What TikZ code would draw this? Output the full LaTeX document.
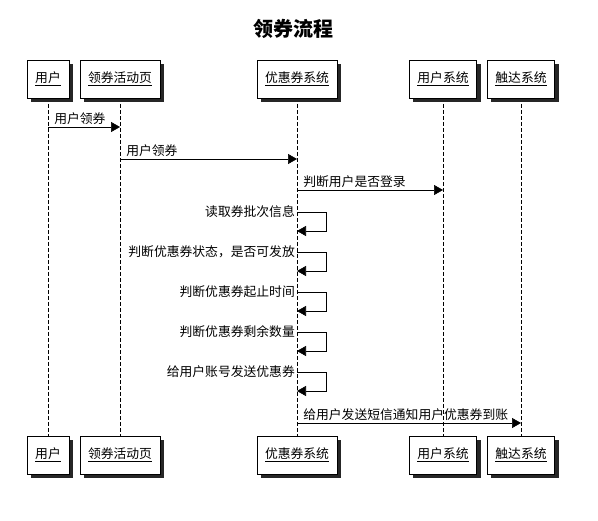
\documentclass[tikz,border=0pt]{standalone}
\usepackage{fontspec}
\setmainfont{Noto Sans CJK SC}
\usetikzlibrary{arrows.meta, shadows}

\begin{document}
\begin{tikzpicture}[x=1pt, y=-1pt,
    font=\fontsize{12.8}{14}\selectfont,
    actor/.style={draw, fill=white, minimum height=38pt, inner xsep=8pt,
        drop shadow={shadow xshift=4pt, shadow yshift=-4pt, fill=black!85, opacity=1}},
    lifeline/.style={dash pattern=on 4pt off 2pt, line width=0.6pt},
    msg/.style={-{Triangle[length=9pt, width=10pt]}, line width=0.6pt},
    msglabel/.style={inner sep=2pt}]
    \useasboundingbox (0,0) rectangle (598,521);

    \node[font=\fontsize{20}{22}\selectfont\bfseries] (title) at (293,29) {领券流程};

    % participants, top and bottom
    \foreach \name/\x/\txt in {user/48/用户, page/120/领券活动页, coupon/297/优惠券系统,
            usersys/443/用户系统, reach/521/触达系统} {
        \draw[lifeline] (\x,98) -- (\x,436);
        \node[actor] (\name Top) at (\x,79) {\underline{\txt}};
        \node[actor] (\name Bot) at (\x,455) {\underline{\txt}};
    }

    \draw[msg] (userTop |- 0,127) -- (pageTop |- 0,127)
        node[msglabel, pos=0, anchor=south west, xshift=4pt] (m1) {用户领券};
    \draw[msg] (pageTop |- 0,159) -- (couponTop |- 0,159)
        node[msglabel, pos=0, anchor=south west, xshift=4pt] (m2) {用户领券};
    \draw[msg] (couponTop |- 0,190) -- (usersysTop |- 0,190)
        node[msglabel, pos=0, anchor=south west, xshift=4pt] (m3) {判断用户是否登录};

    % self messages
    \foreach \y/\txt in {212/读取券批次信息, 252/判断优惠券状态，是否可发放, 292/判断优惠券起止时间,
            332/判断优惠券剩余数量, 372/给用户账号发送优惠券} {
        \draw[msg] (couponTop |- 0,\y) -- ++(29,0) -- ++(0,19) -- (couponTop |- 0,\y+19);
        \node[msglabel, anchor=east] at (couponTop |- 0,\y) {\txt};
    }

    \draw[msg] (couponTop |- 0,423) -- (reachTop |- 0,423)
        node[msglabel, pos=0, anchor=south west, xshift=4pt] (m9) {给用户发送短信通知用户优惠券到账};
\end{tikzpicture}
\end{document}
